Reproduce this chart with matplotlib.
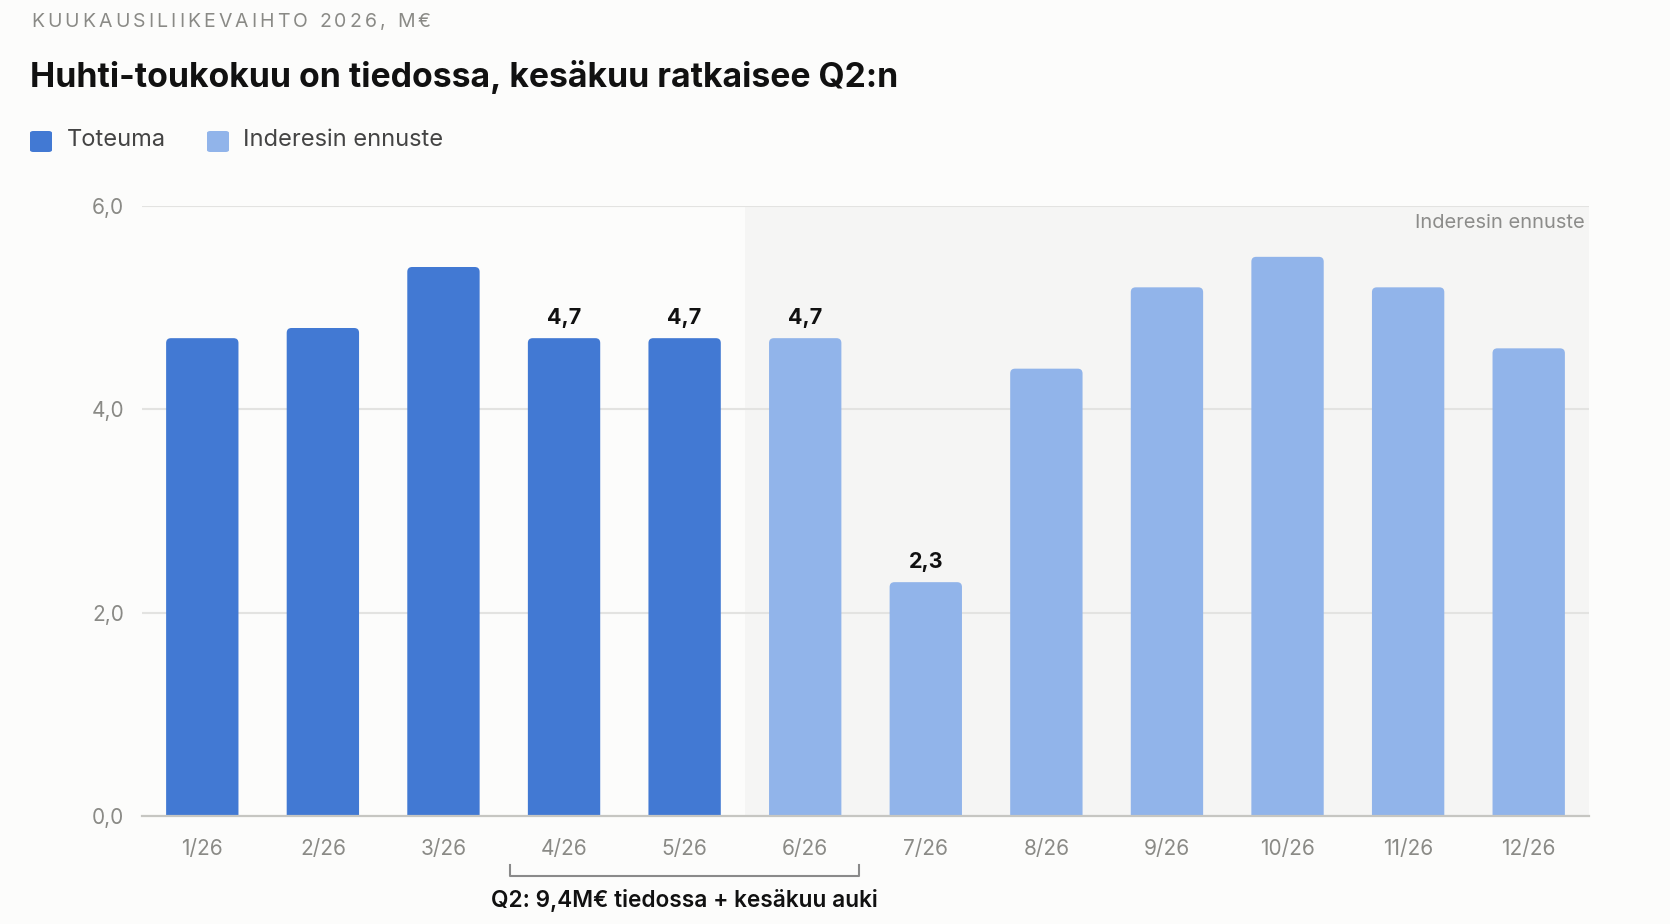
import numpy as np
import matplotlib.pyplot as plt
from matplotlib.patches import FancyBboxPatch

plt.rcParams['font.family'] = ['Inter', 'DejaVu Sans']

months = ['1/26', '2/26', '3/26', '4/26', '5/26', '6/26',
          '7/26', '8/26', '9/26', '10/26', '11/26', '12/26']
values = [4.7, 4.8, 5.4, 4.7, 4.7, 4.7, 2.3, 4.4, 5.2, 5.5, 5.2, 4.6]
actual = [True, True, True, True, True, False,
          False, False, False, False, False, False]
labelled = [3, 4, 5, 6]

dark = '#4279D3'
light = '#91B4EA'
bg = '#FCFCFB'

fig = plt.figure(figsize=(16.7, 9.24), dpi=100, facecolor=bg)
ax = fig.add_axes([142/1670, 1-816/924, 1447/1670, 610/924])
ax.set_facecolor(bg)

x = np.arange(len(months))
ax.set_xlim(-0.5, 11.5)
ax.set_ylim(0, 6)

# forecast zone
ax.axvspan(4.5, 11.5, color='#F5F5F4', zorder=0, lw=0)

for yv in [2, 4, 6]:
    ax.axhline(yv, color='#E3E3E1', lw=1.5, zorder=1)

cols = [dark if a else light for a in actual]
bars = ax.bar(x, values, width=0.6, color=cols, zorder=2)
aspect = (1447/12) / (610/6)
for b, c in zip(bars, cols):
    b.set_visible(False)
    p = FancyBboxPatch((b.get_x(), -0.2), b.get_width(), b.get_height() + 0.2,
                       boxstyle='round,pad=0,rounding_size=0.04',
                       mutation_aspect=aspect, fc=c, ec='none', zorder=2)
    ax.add_patch(p)

for i in labelled:
    ax.annotate(f'{values[i]:.1f}'.replace('.', ','), (x[i], values[i]),
                xytext=(0, 7), textcoords='offset points', ha='center', va='bottom',
                fontsize=15.5, fontweight='bold', color='#111111')

ax.text(11.5 - 0.035, 6 - 0.17, 'Inderesin ennuste', ha='right', va='center',
        fontsize=14.5, color='#8C8C8A')

for s in ['top', 'right', 'left']:
    ax.spines[s].set_visible(False)
ax.spines['bottom'].set_color('#C6C6C2')
ax.spines['bottom'].set_linewidth(1.6)
ax.spines['bottom'].set_zorder(3)

ax.set_xticks(x)
ax.set_xticklabels(months)
ax.set_yticks([0, 2, 4, 6])
ax.set_yticklabels(['0,0', '2,0', '4,0', '6,0'])
ax.tick_params(axis='both', length=0, labelsize=15, colors='#8A8A86')
ax.tick_params(axis='x', pad=16.5)
ax.tick_params(axis='y', pad=13)

# Q2 bracket
ax.plot([2.55, 2.55, 5.45, 5.45], [-0.48, -0.59, -0.59, -0.48],
        color='#8A8A8A', lw=1.5, clip_on=False, zorder=3)
ax.text(4, -0.83, 'Q2: 9,4M€ tiedossa + kesäkuu auki', ha='center', va='center',
        fontsize=16.3, fontweight='semibold', color='#111111')

# header, subtitle drawn letter by letter for the tracking
subtitle = 'KUUKAUSILIIKEVAIHTO 2026, M€'
renderer = fig.canvas.get_renderer()
probe = fig.text(0, 0, 'X', fontsize=14)
xw = probe.get_window_extent(renderer).width
sx = 31
for i, ch in enumerate(subtitle):
    probe.set_text(subtitle[:i] + 'X')
    w = probe.get_window_extent(renderer).width - xw if i else 0
    fig.text((sx + w + i * 3.1)/1670, 1-22/924, ch, ha='left', va='center',
             fontsize=14, color='#8A8A86')
probe.remove()

fig.text(30/1670, 1-77/924, 'Huhti-toukokuu on tiedossa, kesäkuu ratkaisee Q2:n',
         ha='left', va='center', fontsize=24.3, fontweight='bold', color='#111111')

# legend
for lx, tx, c, lab in [(30, 67, dark, 'Toteuma'), (207, 243, light, 'Inderesin ennuste')]:
    fig.patches.append(FancyBboxPatch((lx/1670, 1-152/924), 22/1670, 21/924,
                                      boxstyle='round,pad=0,rounding_size=0.002',
                                      transform=fig.transFigure, fc=c, ec='none'))
    fig.text(tx/1670, 1-140/924, lab, ha='left', va='center',
             fontsize=17, color='#444444')

fig.savefig('out.png', dpi=100, facecolor=bg)
